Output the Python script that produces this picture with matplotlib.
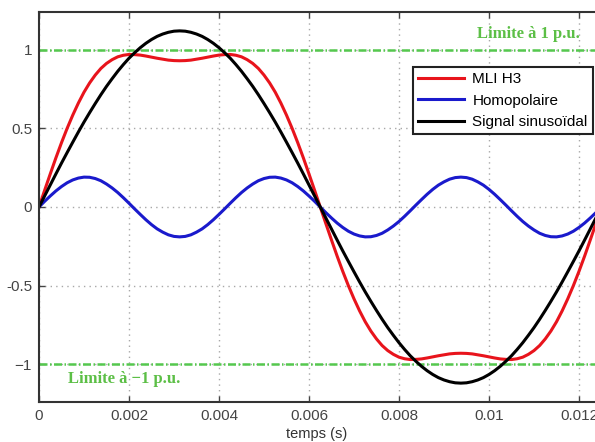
import matplotlib
matplotlib.use("Agg")
import matplotlib.pyplot as plt

# temps (s), one point every 0.125 ms over one period (80 Hz)
temps = [0.0, 0.000125, 0.00025, 0.000375, 0.0005, 0.000625, 0.00075, 0.000875,
         0.001, 0.001125, 0.00125, 0.001375, 0.0015, 0.001625, 0.00175, 0.001875,
         0.002, 0.002125, 0.00225, 0.002375, 0.0025, 0.002625, 0.00275, 0.002875,
         0.003, 0.003125, 0.00325, 0.003375, 0.0035, 0.003625, 0.00375, 0.003875,
         0.004, 0.004125, 0.00425, 0.004375, 0.0045, 0.004625, 0.00475, 0.004875,
         0.005, 0.005125, 0.00525, 0.005375, 0.0055, 0.005625, 0.00575, 0.005875,
         0.006, 0.006125, 0.00625, 0.006375, 0.0065, 0.006625, 0.00675, 0.006875,
         0.007, 0.007125, 0.00725, 0.007375, 0.0075, 0.007625, 0.00775, 0.007875,
         0.008, 0.008125, 0.00825, 0.008375, 0.0085, 0.008625, 0.00875, 0.008875,
         0.009, 0.009125, 0.00925, 0.009375, 0.0095, 0.009625, 0.00975, 0.009875,
         0.01, 0.010125, 0.01025, 0.010375, 0.0105, 0.010625, 0.01075, 0.010875,
         0.011, 0.011125, 0.01125, 0.011375, 0.0115, 0.011625, 0.01175, 0.011875,
         0.012, 0.012125, 0.01225, 0.012375, 0.0125]

mli_h3 = [0.000, 0.106, 0.210, 0.312, 0.409, 0.500, 0.584, 0.661, 0.730, 0.789,
          0.839, 0.881, 0.913, 0.937, 0.955, 0.965, 0.970, 0.969, 0.966, 0.960,
          0.953, 0.946, 0.940, 0.934, 0.931, 0.930, 0.931, 0.934, 0.940, 0.946,
          0.953, 0.960, 0.966, 0.969, 0.970, 0.965, 0.955, 0.937, 0.913, 0.881,
          0.839, 0.789, 0.730, 0.661, 0.584, 0.500, 0.409, 0.312, 0.210, 0.106,
          0.000,
          -0.106, -0.210, -0.312, -0.409, -0.500, -0.584, -0.661, -0.730, -0.789,
          -0.839, -0.881, -0.913, -0.937, -0.955, -0.965, -0.970, -0.969, -0.966,
          -0.960, -0.953, -0.946, -0.940, -0.934, -0.931, -0.930, -0.931, -0.934,
          -0.940, -0.946, -0.953, -0.960, -0.966, -0.969, -0.970, -0.965, -0.955,
          -0.937, -0.913, -0.881, -0.839, -0.789, -0.730, -0.661, -0.584, -0.500,
          -0.409, -0.312, -0.210, -0.106, 0.000]

homopolaire = [0.000, 0.036, 0.070, 0.102, 0.130, 0.154, 0.172, 0.184, 0.190,
               0.189, 0.181, 0.167, 0.146, 0.121, 0.092, 0.059, 0.024, -0.012,
               -0.047, -0.081, -0.112, -0.139, -0.160, -0.177, -0.187, -0.190,
               -0.187, -0.177, -0.160, -0.139, -0.112, -0.081, -0.047, -0.012,
               0.024, 0.059, 0.092, 0.121, 0.146, 0.167, 0.181, 0.189, 0.190,
               0.184, 0.172, 0.154, 0.130, 0.102, 0.070, 0.036, 0.000,
               -0.036, -0.070, -0.102, -0.130, -0.154, -0.172, -0.184, -0.190,
               -0.189, -0.181, -0.167, -0.146, -0.121, -0.092, -0.059, -0.024,
               0.012, 0.047, 0.081, 0.112, 0.139, 0.160, 0.177, 0.187, 0.190,
               0.187, 0.177, 0.160, 0.139, 0.112, 0.081, 0.047, 0.012, -0.024,
               -0.059, -0.092, -0.121, -0.146, -0.167, -0.181, -0.189, -0.190,
               -0.184, -0.172, -0.154, -0.130, -0.102, -0.070, -0.036, 0.000]

sinus = [0.000, 0.070, 0.140, 0.210, 0.279, 0.346, 0.412, 0.477, 0.540, 0.600,
         0.658, 0.714, 0.767, 0.816, 0.863, 0.906, 0.946, 0.981, 1.013, 1.041,
         1.065, 1.085, 1.100, 1.111, 1.118, 1.120, 1.118, 1.111, 1.100, 1.085,
         1.065, 1.041, 1.013, 0.981, 0.946, 0.906, 0.863, 0.816, 0.767, 0.714,
         0.658, 0.600, 0.540, 0.477, 0.412, 0.346, 0.279, 0.210, 0.140, 0.070,
         0.000,
         -0.070, -0.140, -0.210, -0.279, -0.346, -0.412, -0.477, -0.540, -0.600,
         -0.658, -0.714, -0.767, -0.816, -0.863, -0.906, -0.946, -0.981, -1.013,
         -1.041, -1.065, -1.085, -1.100, -1.111, -1.118, -1.120, -1.118, -1.111,
         -1.100, -1.085, -1.065, -1.041, -1.013, -0.981, -0.946, -0.906, -0.863,
         -0.816, -0.767, -0.714, -0.658, -0.600, -0.540, -0.477, -0.412, -0.346,
         -0.279, -0.210, -0.140, -0.070, 0.000]

xticks = [0, 0.002, 0.004, 0.006, 0.008, 0.01, 0.012]
xtick_labels = ["0", "0.002", "0.004", "0.006", "0.008", "0.01", "0.012"]
yticks = [-1, -0.5, 0, 0.5, 1]
ytick_labels = ["\u22121", "-0.5", "0", "0.5", "1"]
limite = 1.0

plt.rcParams["font.family"] = ["Liberation Sans", "DejaVu Sans"]

fig = plt.figure(figsize=(5.95, 4.42), dpi=100)
ax = fig.add_axes([39 / 595, 40 / 442, 1 - 39 / 595, 390 / 442])

ax.grid(True, linestyle=(0, (1, 3)), color="#a8a8a8", linewidth=1.0)
ax.set_axisbelow(True)

green = "#55c84e"
dash = (0, (3.2, 1.0, 0.6, 1.0))
ax.axhline(limite, color=green, linewidth=1.8, linestyle=dash)
ax.axhline(-limite, color=green, linewidth=1.8, linestyle=dash)

ax.plot(temps, mli_h3, color="#e8141c", linewidth=2.2, label="MLI H3")
ax.plot(temps, homopolaire, color="#1a1acc", linewidth=2.2, label="Homopolaire")
ax.plot(temps, sinus, color="black", linewidth=2.2, label="Signal sinusoïdal")

ax.text(0.00973, 1.10, "Limite à 1 p.u.", color="#5cbf46", fontsize=12,
        fontweight="bold", family="Liberation Serif", ha="left", va="center")
ax.text(0.00064, -1.095, "Limite à \u22121 p.u.", color="#5cbf46", fontsize=12,
        fontweight="bold", family="Liberation Serif", ha="left", va="center")

ax.set_xlim(0, (595 - 39) / 45000)
ax.set_ylim(-1.24, 1.24)
ax.set_xticks(xticks)
ax.set_xticklabels(xtick_labels)
ax.set_yticks(yticks)
ax.set_yticklabels(ytick_labels)
ax.tick_params(direction="in", length=4, width=1, top=True, right=False,
               labelsize=11, labelcolor="#444444", color="#444444", pad=5)
ax.spines["right"].set_visible(False)
for s in ["left", "bottom", "top"]:
    ax.spines[s].set_linewidth(1.5)
    ax.spines[s].set_color("#333333")

ax.set_xlabel("temps (s)", fontsize=10.5, color="#333333", labelpad=3)

leg = ax.legend(loc="upper right", bbox_to_anchor=(593 / 595, 1 - 67 / 442),
                bbox_transform=fig.transFigure, fontsize=11, handlelength=3.0,
                labelspacing=0.48, borderpad=0.35, handletextpad=0.55,
                borderaxespad=0, fancybox=False, framealpha=1,
                edgecolor="#222222")
leg.get_frame().set_linewidth(1.5)

fig.savefig("out.png", dpi=100)
